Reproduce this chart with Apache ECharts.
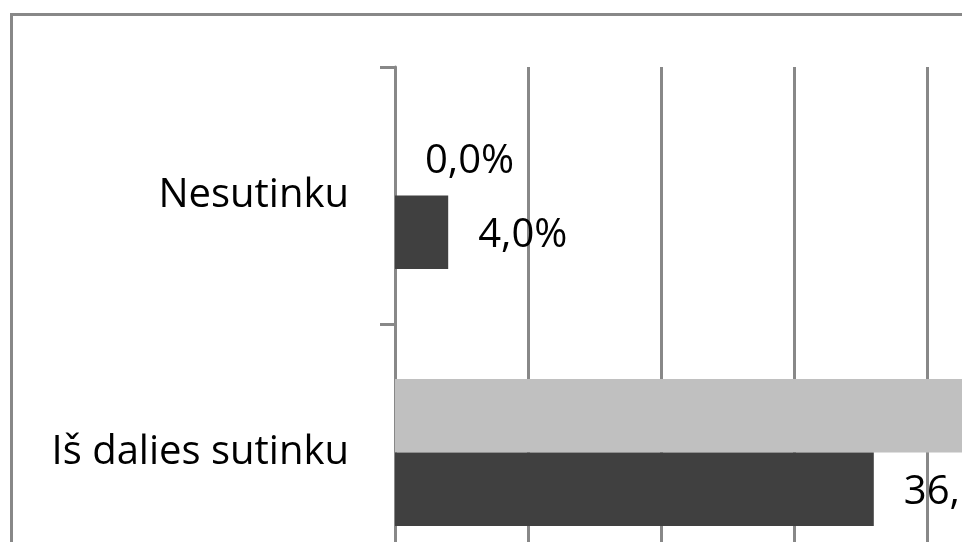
<!DOCTYPE html>
<html>
<head>
<meta charset="utf-8">
<script src="https://cdn.jsdelivr.net/npm/echarts@6/dist/echarts.min.js"></script>
<style>
  html, body { margin: 0; padding: 0; background: #fff; }
  #divChart { width: 962px; height: 542px; }
</style>
</head>
<body>
<div id="divChart"></div>
<script>
var categories = ['Nesutinku', 'Iš dalies sutinku'];
var lightValues = [0.0, 52.0];
var darkValues = [4.0, 36.0];
var xTicks = [0, 10, 20, 30, 40, 50, 60];

var myChart = echarts.init(document.getElementById('divChart'));

function pct(p) {
    return p.value.toFixed(1).replace('.', ',') + '%';
}

var labelStyle = {
    show: true,
    position: 'right',
    distance: 30,
    offset: [0, 3],
    formatter: pct,
    fontFamily: 'Open Sans',
    fontSize: 40,
    color: '#000'
};

var option = {
    animation: false,
    backgroundColor: '#fff',
    graphic: [{
        type: 'rect',
        shape: { x: 11.5, y: 14.5, width: 1200, height: 800 },
        style: { fill: 'none', stroke: '#888', lineWidth: 3 },
        silent: true
    }],
    grid: {
        outerBoundsMode: 'none',
        containLabel: false,
        left: 395,
        top: 67,
        width: 133 * (xTicks.length - 1),
        height: 514
    },
    xAxis: {
        type: 'value',
        min: xTicks[0],
        max: xTicks[xTicks.length - 1],
        interval: 10,
        axisLine: { show: false },
        axisTick: { show: false },
        axisLabel: { show: false },
        splitLine: { lineStyle: { color: '#888', width: 3 } }
    },
    yAxis: {
        type: 'category',
        inverse: true,
        data: categories,
        axisLine: { lineStyle: { color: '#888', width: 3 } },
        axisTick: { show: true, length: 15, lineStyle: { color: '#888', width: 3 } },
        axisLabel: {
            margin: 46,
            fontFamily: 'Open Sans',
            fontSize: 40,
            color: '#000'
        }
    },
    series: [{
        name: 'light',
        type: 'bar',
        data: lightValues,
        barGap: '0%',
        barCategoryGap: '42.8%',
        itemStyle: { color: '#c0c0c0' },
        label: labelStyle
    }, {
        name: 'dark',
        type: 'bar',
        data: darkValues,
        barGap: '0%',
        barCategoryGap: '42.8%',
        itemStyle: { color: '#404040' },
        label: labelStyle
    }]
};

myChart.setOption(option);
</script>
</body>
</html>
